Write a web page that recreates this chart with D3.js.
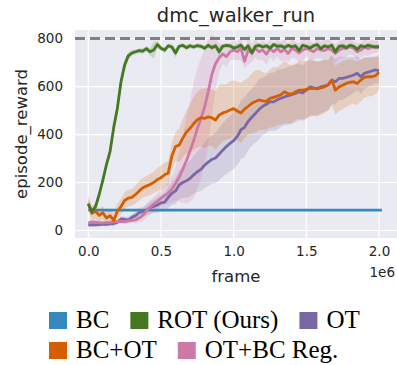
<!DOCTYPE html>
<html>
<head>
<meta charset="utf-8">
<script src="https://cdn.jsdelivr.net/npm/d3@7"></script>
<style>
  html, body { margin: 0; padding: 0; background: #fff; }
  svg { display: block; }
</style>
</head>
<body>
<div id="chart"></div>
<script>
// evaluation frames, in units of 1e6
const frames = [0,0.025,0.05,0.075,0.1,0.125,0.15,0.175,0.2,0.225,0.25,0.275,0.3,0.325,0.35,0.375,0.4,0.425,0.45,0.475,
  0.5,0.525,0.55,0.575,0.6,0.625,0.65,0.675,0.7,0.725,0.75,0.775,0.8,0.825,0.85,0.875,0.9,0.925,0.95,0.975,
  1.0,1.025,1.05,1.075,1.1,1.125,1.15,1.175,1.2,1.225,1.25,1.275,1.3,1.325,1.35,1.375,1.4,1.425,1.45,1.475,
  1.5,1.525,1.55,1.575,1.6,1.625,1.65,1.675,1.7,1.725,1.75,1.775,1.8,1.825,1.85,1.875,1.9,1.925,1.95,1.975,2.0];

// mean episode reward per method
const rotReward = [110,78,100,150,210,275,330,430,510,620, 690,728,740,745,750,748,758,745,752,775,
  760,752,770,765,740,768,772,762,770,765, 771,768,760,772,762,770,745,768,772,770,
  760,765,773,755,770,740,768,772,765,770, 760,775,768,770,762,772,765,770,750,772,
  768,760,770,775,758,770,765,772,745,768, 770,762,772,768,755,770,765,772,768,765, 766];
const bcotReward = [113,72,80,63,74,52,62,42,80,100, 125,135,138,150,165,178,185,192,200,212,
  220,232,240,310,350,356,385,410,426,445, 462,470,467,474,470,460,481,490,495,502,
  508,498,490,506,518,530,538,544,540,538, 551,555,560,566,578,570,568,578,585,585,
  588,592,592,590,594,599,608,627,585,598, 606,613,618,620,613,627,638,641,641,645, 660];
const otReward = [22,24,23,25,27,26,28,30,34,48, 46,44,55,62,75,78,85,95,100,106,
  115,118,138,155,165,190,200,207,217,232, 245,255,272,285,296,302,318,335,350,363,
  375,392,420,430,455,472,488,505,518,526, 537,536,545,551,557,562,566,571,578,574,
  585,599,595,592,599,603,606,627,620,634, 634,638,643,648,655,641,655,660,665,670, 666];
const otbcReward = [30,36,35,33,32,33,34,36,37,38, 37,40,42,44,52,63,82,97,110,122,
  134,145,156,172,196,222,256,291,331,375, 425,466,515,578,650,695,720,736,725,745,
  752,745,760,705,752,740,759,745,752,735, 759,745,759,745,755,738,759,752,740,752,
  759,752,745,759,752,750,759,752,738,752, 759,759,766,760,745,752,766,758,766,765, 766];

// spread (half width of the shaded band)
const rotStd = [20,15,15,18,18,20,22,25,30,30, 25,15,12,10,10,12,10,15,35,15,
  10,12,10,12,20,10,10,12,10,10, 10,10,12,10,12,10,20,10,10,10,
  12,10,10,15,10,20,10,10,10,10, 12,10,10,10,12,10,10,10,15,10,
  10,12,10,10,12,10,10,10,15,10, 10,12,10,10,12,10,10,10,10,10, 10];
const bcotStd = [35,30,30,28,28,28,28,30,30, 32,35,35,35,38,40,40,42,45,45,48,50,
  50,50,55,60,70,80,90,100,110,115,
  120,125,120,118,122,125,120,115,120,118,122,125,120,118,125,130,125,120,118,122,125,120,125,130,125,120,118,120,122,120,
  118,115,115,112,110,108,105,102,100,100,98,95,92,90,88,85,82,80,78,75];
const otStd = [8,8,8,8,8,8,8,10,10,12,12,12,14,
  16,18,20,22,25,28,32,36,40,45,50,55,
  60,65,70,75,80,85,90,95,100,100,105,110,110,115,115,120,
  120,122,125,120,118,122,125,120,118,120,122,125,120,118,120,122,120,118,115,120,118,115,112,110,
  108,105,100,95,90,90,85,80,75,70,70,65,60,60,55,55];
const otbcStd = [10,10,8,8,8,8,8,8,8,10,10,10,12,
  14,18,25,30,30,30,32,35,40,45,
  55,70,100,140,180,210,240,250,250,240,220,170,110,60,
  40,45,35,40,35,50,30,60,35,40, 35,40,45,35,40,35,40,45,35,40,
  35,40,45,35,40,35,40,35,45,40, 35,40,35,40,35,30,30,35,30,35, 30,30,25,25];

// BC baseline is a flat evaluation line
const bcFrames = [0, 2.02];
const bcReward = [85, 85];
const expertReward = 800;

const seriesNames = ['BC', 'ROT (Ours)', 'OT', 'BC+OT', 'OT+BC Reg.'];
const seriesColors = ['#348ABD', '#467821', '#7A68A6', '#D55E00', '#CC79A7'];
const legendRows = [['BC', 'ROT (Ours)', 'OT'], ['BC+OT', 'OT+BC Reg.']];

const xTicks = [0, 0.5, 1.0, 1.5, 2.0];
const yTicks = [0, 200, 400, 600, 800];

const chart = {
    width: 397,
    height: 365,
    plot: { left: 75, right: 397, top: 30, bottom: 238 },
    svg: null,
    x: null,
    y: null,
    color: null,

    init: function() {
        chart.svg = d3.select('#chart')
            .append('svg')
            .attr('width', chart.width)
            .attr('height', chart.height);

        chart.color = d3.scaleOrdinal().domain(seriesNames).range(seriesColors);

        chart.x = d3.scaleLinear()
            .domain([-0.0915, 2.1238])
            .range([chart.plot.left, chart.plot.right]);
        chart.y = d3.scaleLinear()
            .domain([-31.3, 835.8])
            .range([chart.plot.bottom, chart.plot.top]);

        chart.drawFrame();
        chart.drawSeries();
        chart.drawLabels();
        chart.drawLegend();
    },

    drawFrame: function() {
        const p = chart.plot;
        chart.svg.append('rect')
            .attr('x', p.left).attr('y', p.top)
            .attr('width', p.right - p.left).attr('height', p.bottom - p.top)
            .attr('fill', '#EAEAF2');

        chart.svg.append('clipPath').attr('id', 'clip')
            .append('rect')
            .attr('x', p.left).attr('y', p.top)
            .attr('width', p.right - p.left).attr('height', p.bottom - p.top);

        // grid
        const grid = chart.svg.append('g').attr('stroke', '#fff').attr('stroke-width', 1.2);
        grid.selectAll('.gx').data(xTicks).enter().append('line')
            .attr('x1', d => chart.x(d)).attr('x2', d => chart.x(d))
            .attr('y1', p.top).attr('y2', p.bottom);
        grid.selectAll('.gy').data(yTicks).enter().append('line')
            .attr('y1', d => chart.y(d)).attr('y2', d => chart.y(d))
            .attr('x1', p.left).attr('x2', p.right);

        // tick labels through d3 axes, domain line and tick marks hidden
        const xAxis = chart.svg.append('g')
            .attr('transform', `translate(0, ${p.bottom})`)
            .call(d3.axisBottom(chart.x).tickValues(xTicks).tickFormat(d3.format('.1f')).tickSize(0).tickPadding(8));
        const yAxis = chart.svg.append('g')
            .attr('transform', `translate(${p.left}, 0)`)
            .call(d3.axisLeft(chart.y).tickValues(yTicks).tickSize(0).tickPadding(12));
        [xAxis, yAxis].forEach(ax => {
            ax.select('.domain').remove();
            ax.selectAll('text')
                .attr('fill', '#262626')
                .style('font-family', 'DejaVu Sans')
                .style('font-size', '13.5px');
        });
    },

    drawSeries: function() {
        const layer = chart.svg.append('g').attr('clip-path', 'url(#clip)');

        const curves = [
            { name: 'OT', mean: otReward, std: otStd },
            { name: 'OT+BC Reg.', mean: otbcReward, std: otbcStd },
            { name: 'BC+OT', mean: bcotReward, std: bcotStd },
            { name: 'ROT (Ours)', mean: rotReward, std: rotStd }
        ];

        const area = d3.area()
            .x(d => chart.x(d.f))
            .y0(d => chart.y(d.m - d.s))
            .y1(d => chart.y(d.m + d.s));
        const line = d3.line()
            .x(d => chart.x(d.f))
            .y(d => chart.y(d.m));

        const rows = c => frames.map((f, i) => ({ f: f, m: c.mean[i], s: c.std[i] }));

        // shaded bands first
        curves.forEach(c => {
            layer.append('path')
                .datum(rows(c))
                .attr('d', area)
                .attr('fill', chart.color(c.name))
                .attr('fill-opacity', 0.2)
                .attr('stroke', 'none');
        });

        // BC flat line
        layer.append('path')
            .datum(bcFrames.map((f, i) => ({ f: f, m: bcReward[i] })))
            .attr('d', line)
            .attr('fill', 'none')
            .attr('stroke', chart.color('BC'))
            .attr('stroke-width', 2.8);

        curves.forEach(c => {
            layer.append('path')
                .datum(rows(c))
                .attr('d', line)
                .attr('fill', 'none')
                .attr('stroke', chart.color(c.name))
                .attr('stroke-width', 2.8)
                .attr('stroke-linejoin', 'round');
        });

        // expert reference
        chart.svg.append('line')
            .attr('x1', chart.plot.left).attr('x2', chart.plot.right)
            .attr('y1', chart.y(expertReward)).attr('y2', chart.y(expertReward))
            .attr('stroke', '#808080')
            .attr('stroke-width', 3)
            .attr('stroke-dasharray', '10,5');
    },

    drawLabels: function() {
        const p = chart.plot;
        const cx = (p.left + p.right) / 2;
        const cy = (p.top + p.bottom) / 2;

        chart.svg.append('text')
            .attr('x', cx).attr('y', 22)
            .attr('text-anchor', 'middle')
            .attr('fill', '#262626')
            .style('font-family', 'DejaVu Sans')
            .style('font-size', '19.5px')
            .text('dmc_walker_run');

        chart.svg.append('text')
            .attr('x', cx).attr('y', 282)
            .attr('text-anchor', 'middle')
            .attr('fill', '#262626')
            .style('font-family', 'DejaVu Sans')
            .style('font-size', '16.5px')
            .text('frame');

        chart.svg.append('text')
            .attr('transform', `translate(27, ${cy}) rotate(-90)`)
            .attr('text-anchor', 'middle')
            .attr('fill', '#262626')
            .style('font-family', 'DejaVu Sans')
            .style('font-size', '16.5px')
            .text('episode_reward');

        chart.svg.append('text')
            .attr('x', 395).attr('y', 277)
            .attr('text-anchor', 'end')
            .attr('fill', '#262626')
            .style('font-family', 'DejaVu Sans')
            .style('font-size', '13.5px')
            .text('1e6');
    },

    drawLegend: function() {
        const startX = 49;
        const baselines = [328, 358];
        const patchW = 18, patchH = 17, textGap = 9, itemGap = 21;

        legendRows.forEach((row, r) => {
            let x = startX;
            row.forEach(name => {
                chart.svg.append('rect')
                    .attr('x', x).attr('y', baselines[r] - 16)
                    .attr('width', patchW).attr('height', patchH)
                    .attr('fill', chart.color(name));
                const t = chart.svg.append('text')
                    .attr('x', x + patchW + textGap).attr('y', baselines[r])
                    .attr('fill', '#000')
                    .style('font-family', 'Liberation Serif')
                    .style('font-size', '25px')
                    .text(name);
                x += patchW + textGap + t.node().getComputedTextLength() + itemGap;
            });
        });
    }
};

document.addEventListener('DOMContentLoaded', chart.init);
</script>
</body>
</html>
